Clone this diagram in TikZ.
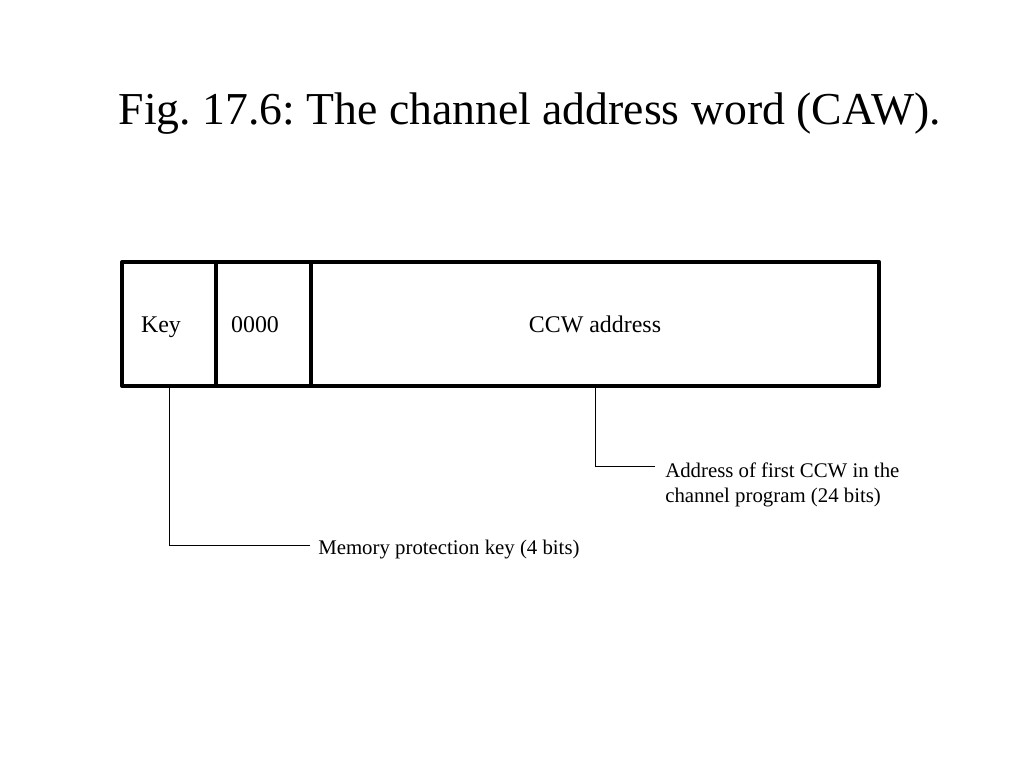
\documentclass[tikz,border=0pt]{standalone}
\usepackage{fontspec}
\setmainfont{Liberation Serif}
\usetikzlibrary{positioning}
\frenchspacing

\tikzset{
	cell/.style={draw,line width=2.8pt,line join=round,minimum height=3.1cm,inner sep=0pt,outer sep=0pt},
	celltext/.style={font=\fontsize{17}{20}\selectfont,anchor=base},
	note/.style={font=\fontsize{14.8}{17.7}\selectfont,align=left,inner sep=0pt,anchor=west},
	lead/.style={line width=0.7pt}
}

\begin{document}
\begin{tikzpicture}[x=0.025cm,y=-0.025cm]
	\useasboundingbox (0,0) rectangle (1024,768);
	\node[font=\fontsize{32.5}{36}\selectfont] (title) at (530,114) {Fig. 17.6: The channel address word (CAW).};
	% the word
	\node[cell,minimum width=2.35cm] (keycell) at (169,324) {};
	\node[cell,minimum width=2.375cm,right=0pt of keycell] (zerocell) {};
	\node[cell,minimum width=14.2cm,right=0pt of zerocell] (ccwcell) {};
	\node[celltext] (key) at (161,332) {Key};
	\node[celltext] (zeros) at (255,332) {0000};
	\node[celltext] (ccw) at (595,332) {CCW address};
	% the notes
	\node[note] (ccwnote) at (665,485) {Address of first CCW in the\\channel program (24 bits)};
	\node[note] (keynote) at (318,550) {Memory protection key (4 bits)};
	\coordinate (ccwend) at (655,466);
	\coordinate (keyend) at (310,545);
	\draw[lead] (ccwcell.south) |- (ccwend);
	\draw[lead] (keycell.south) |- (keyend);
\end{tikzpicture}
\end{document}
